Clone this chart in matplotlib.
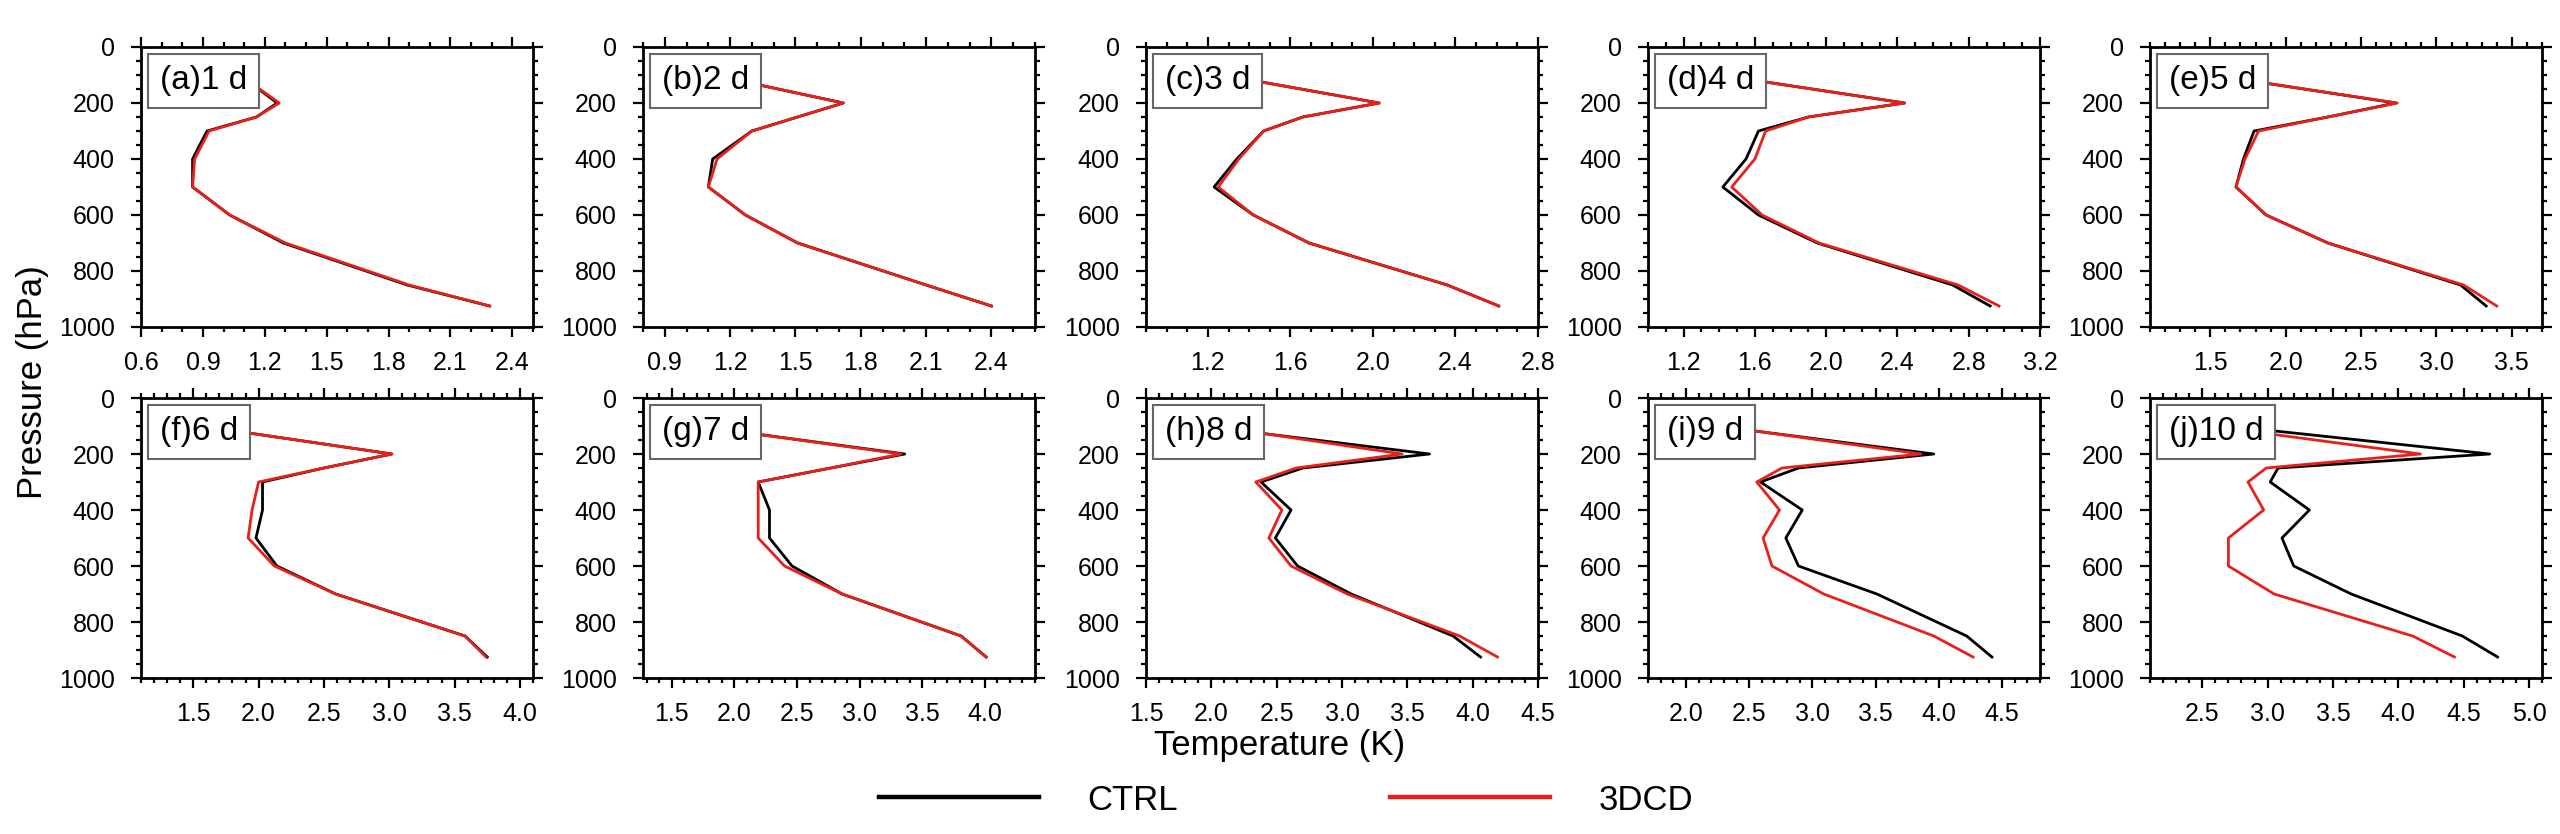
import matplotlib
matplotlib.use("Agg")
import matplotlib.pyplot as plt
from matplotlib.ticker import MultipleLocator, FormatStrFormatter
from matplotlib.lines import Line2D

plt.rcParams['font.family'] = ['Liberation Sans', 'DejaVu Sans']

# pressure levels (hPa)
levels = [100, 200, 250, 300, 400, 500, 600, 700, 850, 925]

# temperature (K), CTRL and 3DCD
ctrl_d1 = [1.08, 1.26, 1.16, 0.92, 0.85, 0.85, 1.03, 1.29, 1.89, 2.29]
dcd_d1 = [1.08, 1.27, 1.16, 0.93, 0.86, 0.85, 1.03, 1.30, 1.90, 2.29]
ctrl_d2 = [1.12, 1.72, 1.51, 1.30, 1.12, 1.10, 1.27, 1.51, 2.10, 2.40]
dcd_d2 = [1.12, 1.72, 1.51, 1.30, 1.14, 1.10, 1.27, 1.51, 2.10, 2.40]
ctrl_d3 = [1.27, 2.03, 1.66, 1.47, 1.34, 1.23, 1.42, 1.69, 2.36, 2.61]
dcd_d3 = [1.27, 2.03, 1.66, 1.47, 1.35, 1.25, 1.42, 1.69, 2.36, 2.61]
ctrl_d4 = [1.40, 2.44, 1.90, 1.62, 1.55, 1.42, 1.62, 1.95, 2.71, 2.92]
dcd_d4 = [1.40, 2.44, 1.90, 1.66, 1.60, 1.47, 1.64, 1.96, 2.74, 2.97]
ctrl_d5 = [1.51, 2.73, 2.28, 1.79, 1.72, 1.67, 1.87, 2.28, 3.16, 3.33]
dcd_d5 = [1.51, 2.74, 2.28, 1.82, 1.73, 1.67, 1.87, 2.28, 3.18, 3.40]
ctrl_d6 = [1.56, 3.02, 2.50, 2.03, 2.03, 1.98, 2.14, 2.59, 3.58, 3.75]
dcd_d6 = [1.56, 3.02, 2.50, 2.00, 1.95, 1.92, 2.12, 2.59, 3.58, 3.74]
ctrl_d7 = [1.70, 3.36, 2.77, 2.19, 2.28, 2.28, 2.46, 2.86, 3.81, 4.01]
dcd_d7 = [1.70, 3.33, 2.77, 2.19, 2.19, 2.19, 2.40, 2.86, 3.81, 4.01]
ctrl_d8 = [1.93, 3.67, 2.70, 2.38, 2.61, 2.49, 2.66, 3.07, 3.85, 4.06]
dcd_d8 = [2.01, 3.46, 2.65, 2.34, 2.54, 2.44, 2.61, 3.04, 3.90, 4.19]
ctrl_d9 = [2.24, 3.96, 2.89, 2.59, 2.92, 2.79, 2.89, 3.51, 4.22, 4.42]
dcd_d9 = [2.26, 3.86, 2.76, 2.56, 2.74, 2.61, 2.68, 3.09, 3.96, 4.27]
ctrl_d10 = [2.70, 4.70, 3.08, 3.02, 3.32, 3.11, 3.20, 3.64, 4.49, 4.76]
dcd_d10 = [2.56, 4.17, 2.99, 2.85, 2.97, 2.70, 2.70, 3.05, 4.11, 4.43]

panel_labels = ["(a)1 d", "(b)2 d", "(c)3 d", "(d)4 d", "(e)5 d",
                "(f)6 d", "(g)7 d", "(h)8 d", "(i)9 d", "(j)10 d"]
ctrl_all = [ctrl_d1, ctrl_d2, ctrl_d3, ctrl_d4, ctrl_d5,
            ctrl_d6, ctrl_d7, ctrl_d8, ctrl_d9, ctrl_d10]
dcd_all = [dcd_d1, dcd_d2, dcd_d3, dcd_d4, dcd_d5,
           dcd_d6, dcd_d7, dcd_d8, dcd_d9, dcd_d10]

# x-axis range and major tick spacing of each panel
xlims = [(0.6, 2.5), (0.8, 2.6), (0.9, 2.8), (1.0, 3.2), (1.1, 3.7),
         (1.1, 4.1), (1.27, 4.4), (1.5, 4.5), (1.7, 4.8), (2.1, 5.1)]
xmajor = [0.3, 0.3, 0.4, 0.4, 0.5, 0.5, 0.5, 0.5, 0.5, 0.5]

W, H = 2560, 834
fig = plt.figure(figsize=(W / 100, H / 100), dpi=100)

col_left = [141, 643, 1146, 1648, 2150]
row_top = [47, 398]
ax_w, ax_h = 392, 280

for i in range(10):
    r, c = divmod(i, 5)
    ax = fig.add_axes([col_left[c] / W, 1 - (row_top[r] + ax_h) / H, ax_w / W, ax_h / H])
    ax.plot(ctrl_all[i], levels, color='black', lw=2.0, zorder=2)
    ax.plot(dcd_all[i], levels, color='#e8201c', lw=2.0, zorder=3)

    ax.set_xlim(*xlims[i])
    ax.set_ylim(1000, 0)
    ax.xaxis.set_major_locator(MultipleLocator(xmajor[i]))
    ax.xaxis.set_minor_locator(MultipleLocator(0.1))
    ax.xaxis.set_major_formatter(FormatStrFormatter('%.1f'))
    ax.yaxis.set_major_locator(MultipleLocator(200))
    ax.yaxis.set_minor_locator(MultipleLocator(50))

    ax.tick_params(which='both', direction='out', top=True, right=True, width=1.6)
    ax.tick_params(which='major', length=7, labelsize=18)
    ax.tick_params(which='minor', length=3.5)
    ax.tick_params(axis='x', which='major', pad=10)
    ax.tick_params(axis='y', which='major', pad=12)
    for sp in ax.spines.values():
        sp.set_linewidth(2.0)

    ax.text(0.048, 0.935, panel_labels[i], transform=ax.transAxes,
            ha='left', va='top', fontsize=24, zorder=5,
            bbox=dict(boxstyle='square,pad=0.35', fc='white', ec='0.4', lw=1.5))

fig.text(33 / W, 1 - 382 / H, 'Pressure (hPa)', rotation=90,
         ha='center', va='center', fontsize=25)
fig.text(1280 / W, 1 - 745 / H, 'Temperature (K)', ha='center', va='center', fontsize=25)

handles = [Line2D([], [], color='black', lw=3.2),
           Line2D([], [], color='#e8201c', lw=3.2)]
fig.legend(handles, ['CTRL', '3DCD'], loc='center', bbox_to_anchor=(1286 / W, 1 - 800 / H),
           ncol=2, frameon=False, fontsize=25, handlelength=4.6,
           handletextpad=1.4, columnspacing=6.1)

fig.savefig('out.png', dpi=100)
